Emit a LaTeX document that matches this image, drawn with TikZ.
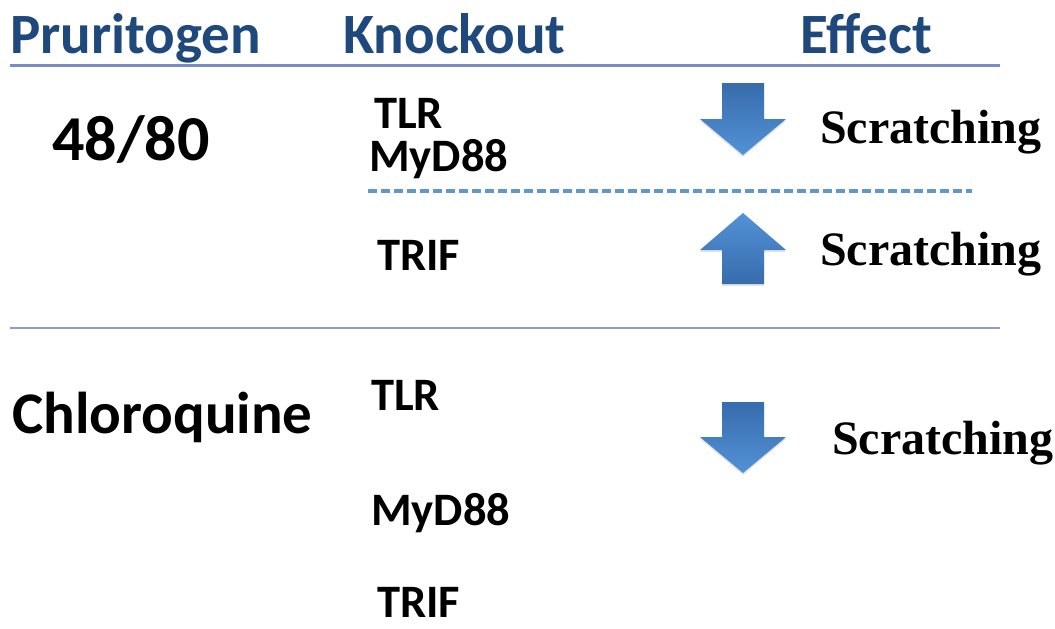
\documentclass[tikz,border=0pt]{standalone}
\usepackage{fontspec}
\setmainfont{Carlito}
\newfontfamily\timesbold{Liberation Serif}[Scale=1.0]
\usetikzlibrary{shadows}

\definecolor{headblue}{RGB}{31,73,125}
\definecolor{rulemain}{RGB}{122,140,196}
\definecolor{rulesoft}{RGB}{138,156,208}
\definecolor{dashblue}{RGB}{98,150,206}
\definecolor{arrowdark}{RGB}{56,108,172}
\definecolor{arrowlight}{RGB}{82,146,214}

\tikzset{
  header/.style={anchor=base west, inner sep=0pt, text=headblue,
    font=\fontsize{57}{60}\selectfont\bfseries},
  agent/.style={anchor=base west, inner sep=0pt, text=black,
    font=\fontsize{64}{66}\selectfont\bfseries},
  agentsm/.style={anchor=base west, inner sep=0pt, text=black,
    font=\fontsize{59}{61}\selectfont\bfseries},
  gene/.style={anchor=base west, inner sep=0pt, text=black,
    font=\fontsize{46.5}{48}\selectfont\bfseries},
  effect/.style={anchor=base west, inner sep=0pt, text=black,
    font=\timesbold\fontsize{48}{50}\selectfont\bfseries},
  downfill/.style={top color=arrowdark, bottom color=arrowlight,
    draw=none, drop shadow={opacity=0.22, shadow xshift=0pt, shadow yshift=-2pt}},
  upfill/.style={top color=arrowlight, bottom color=arrowdark,
    draw=none, drop shadow={opacity=0.22, shadow xshift=0pt, shadow yshift=-2pt}},
}

% block arrow: shaft from x=722 to 764, head from x=700 to 786
\newcommand{\downblock}[3]{% top of shaft, start of head, tip
  \path[downfill] (722,#1) -- (764,#1) -- (764,#2) -- (786,#2) -- (743,#3)
    -- (700,#2) -- (722,#2) -- cycle;}
\newcommand{\upblock}[3]{% tip, start of head, bottom of shaft
  \path[upfill] (743,#1) -- (786,#2) -- (764,#2) -- (764,#3) -- (722,#3)
    -- (722,#2) -- (700,#2) -- cycle;}

\begin{document}
\begin{tikzpicture}[x=1pt, y=-1pt]
  \useasboundingbox (0,0) rectangle (1055,629);

  % column headings
  \node[header] (hpru) at (10,53) {Pruritogen};
  \node[header] (hko)  at (343,53) {Knockout};
  \node[header] (heff) at (800,53) {Effect};
  \draw[rulemain, line width=3pt] (10,65) -- (1000,65);

  % compound 48/80
  \node[agent] (c4880) at (52,160) {48/80};
  \node[gene] (tlrA)  at (374,128) {TLR};
  \node[gene] (myA)   at (369,171) {MyD88};
  \node[gene] (trifA) at (377,270) {TRIF};
  \draw[dashblue, line width=3.5pt, dash pattern=on 9pt off 4pt] (368,191) -- (972,191);
  \downblock{83}{119}{155}
  \upblock{213}{250}{284}
  \node[effect] (effA) at (820,143) {Scratching};
  \node[effect] (effB) at (820,265) {Scratching};

  \draw[rulesoft, line width=2pt] (10,328) -- (1000,328);

  % compound chloroquine
  \node[agentsm] (chloro) at (12,433) {Chloroquine};
  \node[gene] (tlrB)  at (371,410) {TLR};
  \node[gene] (myB)   at (371,525) {MyD88};
  \node[gene] (trifB) at (377,617) {TRIF};
  \downblock{402}{437}{473}
  \node[effect] (effC) at (832,454) {Scratching};
\end{tikzpicture}
\end{document}
